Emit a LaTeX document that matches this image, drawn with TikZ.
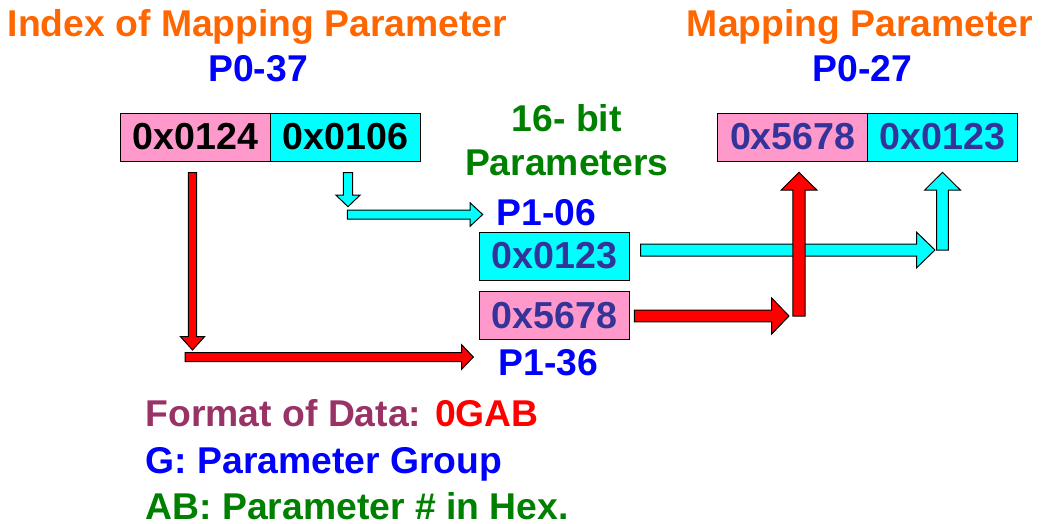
\documentclass[tikz,border=0pt]{standalone}
\usepackage{fontspec}
\setmainfont{Liberation Sans}
\usetikzlibrary{calc}
\definecolor{orng}{HTML}{FF6600}
\definecolor{pblue}{HTML}{0000FF}
\definecolor{dgreen}{HTML}{008000}
\definecolor{maroonish}{HTML}{993366}
\definecolor{pinkbox}{HTML}{FF99CC}
\definecolor{cyanbox}{HTML}{00FFFF}
\definecolor{navytxt}{HTML}{333399}
\newcommand{\blockarrow}[6]{%
  \coordinate (tmpH) at ($(#2)!#5!(#1)$);
  \draw[fill=#6, line width=1pt, line join=miter]
    ($(#1)!#3!90:(#2)$) -- ($(tmpH)!#3!90:(#2)$) -- ($(tmpH)!#4!90:(#2)$) -- (#2)
    -- ($(tmpH)!#4!-90:(#2)$) -- ($(tmpH)!#3!-90:(#2)$) -- ($(#1)!#3!-90:(#2)$) -- cycle;
}
\begin{document}
\begin{tikzpicture}[x=1pt,y=-1pt,
  txt/.style={inner sep=0pt, font=\fontsize{37.3}{40}\selectfont\bfseries},
  boxtxt/.style={font=\fontsize{37.6}{40}\selectfont\bfseries},
  cell/.style={draw=black, line width=1pt, minimum height=48pt, minimum width=150pt, inner sep=0pt, boxtxt}]
\useasboundingbox (0,0) rectangle (1043,523);
% titles
\node[txt, text=orng, anchor=base] (t1) at (257.5,36.7) {Index of Mapping Parameter};
\node[txt, text=pblue, anchor=base] (t1p) at (258,81.7) {P0-37};
\node[txt, text=orng, anchor=base] (t2) at (860,36.7) {Mapping Parameter};
\node[txt, text=pblue, anchor=base] (t2p) at (862.5,81.7) {P0-27};
\node[txt, text=dgreen, anchor=base] (t3a) at (566.7,131.7) {16- bit};
\node[txt, text=dgreen, anchor=base] (t3b) at (566.7,175.7) {Parameters};
\node[txt, text=pblue, anchor=base] (p106) at (546.5,225.7) {P1-06};
\node[txt, text=pblue, anchor=base] (p136) at (548.3,375) {P1-36};
% boxes
\node[cell, fill=pinkbox, text=black] (b1) at (195.5,137) {0x0124};
\node[cell, fill=cyanbox, text=black] (b2) at (345.3,137) {0x0106};
\node[cell, fill=pinkbox, text=navytxt] (r1) at (792.8,137) {0x5678};
\node[cell, fill=cyanbox, text=navytxt] (r2) at (942.6,137) {0x0123};
\node[cell, fill=cyanbox, text=navytxt] (m1) at (554.2,256) {0x0123};
\node[cell, fill=pinkbox, text=navytxt, minimum height=47.6pt] (m2) at (554.2,315.6) {0x5678};
% arrow coordinates
\coordinate (a1s) at (192.5,172.5);
\coordinate (a1e) at (192.5,350);
\coordinate (a2s) at (185,357);
\coordinate (a2e) at (473.3,357);
\coordinate (a3s) at (348,172.7);
\coordinate (a3e) at (348,206.7);
\coordinate (a4s) at (347.3,214.5);
\coordinate (a4e) at (482.7,214.5);
\coordinate (a5s) at (640.7,250);
\coordinate (a5e) at (935,250);
\coordinate (a6s) at (942.5,250);
\coordinate (a6e) at (942.5,172.3);
\coordinate (a7s) at (634.3,316);
\coordinate (a7e) at (789,316);
\coordinate (a8s) at (799,316);
\coordinate (a8e) at (799,172.3);
% arrows
\blockarrow{a1s}{a1e}{4.2pt}{12pt}{13.3pt}{red}
\blockarrow{a2s}{a2e}{4.5pt}{12.2pt}{11.6pt}{red}
\blockarrow{a3s}{a3e}{4.7pt}{12.2pt}{11.7pt}{cyanbox}
\blockarrow{a4s}{a4e}{4.5pt}{11.8pt}{12.7pt}{cyanbox}
\blockarrow{a5s}{a5e}{6pt}{17.7pt}{18.3pt}{cyanbox}
\blockarrow{a6s}{a6e}{5.8pt}{17.8pt}{17.7pt}{cyanbox}
\blockarrow{a7s}{a7e}{5.8pt}{18pt}{17.3pt}{red}
\blockarrow{a8s}{a8e}{6.2pt}{17.8pt}{17.7pt}{red}
% bottom notes
\node[txt, text=maroonish, anchor=base west] (n1) at (145.5,426.7) {Format of Data: \textcolor{red}{0GAB}};
\node[txt, text=pblue, anchor=base west] (n2) at (145.5,473.3) {G: Parameter Group};
\node[txt, text=dgreen, anchor=base west] (n3) at (145.5,519.3) {AB: Parameter \# in Hex.};
\end{tikzpicture}
\end{document}
